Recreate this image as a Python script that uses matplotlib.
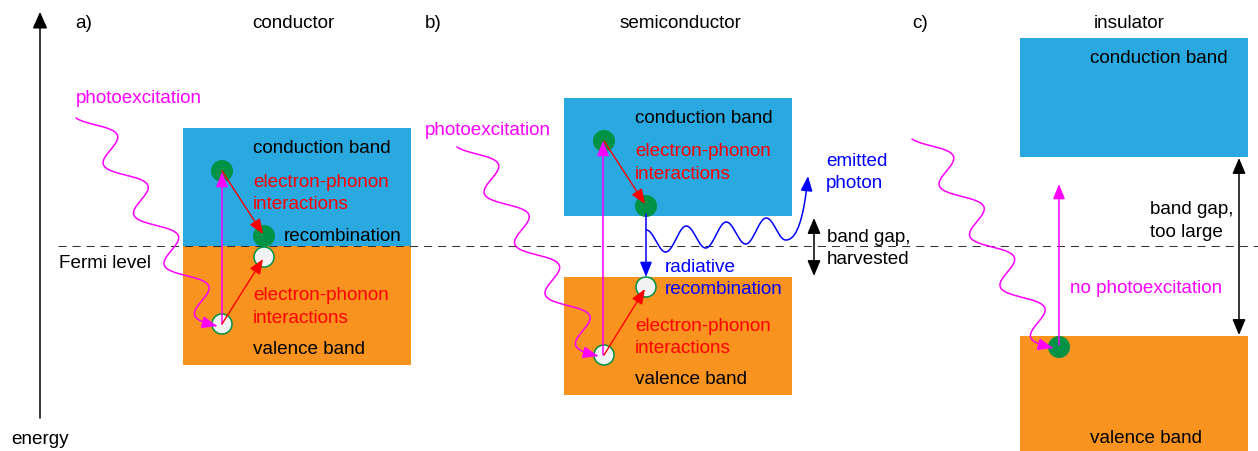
import numpy as np
import matplotlib.pyplot as plt
from matplotlib.patches import Rectangle, Circle, FancyArrowPatch
from matplotlib.path import Path

plt.rcParams['font.family'] = ['Liberation Sans', 'DejaVu Sans']

# canvas in pixels, y grows downwards like the original drawing
W, H = 1258, 451

CB_COLOR = '#29a9e0'
VB_COLOR = '#f7931e'
GREEN = '#009245'
MAGENTA = '#ff00ff'
RED = '#ff0000'
BLUE = '#0000ff'
FS = 13.6

# panels a) conductor, b) semiconductor, c) insulator
panel_labels = ['a)', 'b)', 'c)']
panel_titles = ['conductor', 'semiconductor', 'insulator']
label_x = [75, 425, 912]
title_x = [293, 680, 1129]

# band boxes
band_left = [183, 564, 1020]
band_right = [411, 792, 1248]
cb_top = [128, 98, 38]
cb_bottom = [246, 216, 157]
vb_top = [246, 277, 336]
vb_bottom = [365, 395, 451]
fermi_y = 246

# electrons (filled) and holes (open)
electrons = [(222, 171), (264, 236), (604, 141), (646, 206), (1059, 347)]
holes = [(264, 257), (222, 324), (646, 287), (604, 355)]

# incoming photons: start of squiggle, arrow tip
photon_start = [(76, 118), (457, 147), (912, 139)]
photon_end = [(217, 326), (598, 356), (1053, 348)]

# excitation arrows (magenta, vertical)
excite = [((222, 324), (222, 172)), ((603, 355), (603, 141)), ((1059, 345), (1059, 184))]
# relaxation arrows (red)
relax = [((222, 171), (263, 234)), ((222, 324), (263, 259)),
         ((604, 141), (645, 204)), ((604, 355), (645, 289))]

fig = plt.figure(figsize=(W / 100, H / 100), dpi=100)
ax = fig.add_axes([0, 0, 1, 1])
ax.set_xlim(0, W)
ax.set_ylim(H, 0)
ax.axis('off')


def arrow(p0, p1, color, lw=1.1, style='-|>', hl=0.9, hw=0.36, z=4):
    ax.add_patch(FancyArrowPatch(p0, p1, arrowstyle=f'{style},head_length={hl},head_width={hw}',
                                 mutation_scale=10, color=color, lw=lw,
                                 shrinkA=0, shrinkB=0, zorder=z))


def path_arrow(pts, color, lw=1.1, hl=0.9, hw=0.36):
    ax.add_patch(FancyArrowPatch(path=Path(pts), arrowstyle=f'-|>,head_length={hl},head_width={hw}',
                                 mutation_scale=10, color=color, lw=lw, zorder=4))


def squiggle(start, end, amp=14.5):
    # skewed sine: offsets are nearly horizontal, progress runs down the diagonal
    q = np.array([0.975, -0.22])
    th0, th1 = -np.pi / 2 + 0.35, 8 * np.pi
    b0 = np.array(start, float) - amp * np.sin(th0) * q
    b1 = np.array(end, float) - amp * np.sin(th1) * q
    t = np.linspace(0, 1, 500)[:, None]
    return b0 + t * (b1 - b0) + amp * np.sin(th0 + (th1 - th0) * t) * q


def txt(x, y, s, color='black', ha='left'):
    ax.text(x, y + 2.5, s, color=color, fontsize=FS, ha=ha, va='center', zorder=5)


# bands
for i in range(3):
    w = band_right[i] - band_left[i]
    ax.add_patch(Rectangle((band_left[i], cb_top[i]), w, cb_bottom[i] - cb_top[i],
                           fc=CB_COLOR, ec='none', zorder=1))
    ax.add_patch(Rectangle((band_left[i], vb_top[i]), w, vb_bottom[i] - vb_top[i],
                           fc=VB_COLOR, ec='none', zorder=1))
    txt(label_x[i], 21, panel_labels[i])
    txt(title_x[i], 21, panel_titles[i], ha='center')

# Fermi level
ax.plot([58, W], [fermi_y, fermi_y], color='#333333', lw=0.75, dashes=(7.7, 5.8), zorder=2)
txt(59, 261, 'Fermi level')

# energy axis
arrow((40, 418), (40, 12), 'black', lw=1.1, hl=1.0, hw=0.45)
txt(40, 437, 'energy', ha='center')

# carriers
for c in electrons:
    ax.add_patch(Circle(c, 11, fc=GREEN, ec='none', zorder=3))
for c in holes:
    ax.add_patch(Circle(c, 10, fc='#f2f2f2', ec=GREEN, lw=1.1, zorder=3))

# photons in
for s, e in zip(photon_start, photon_end):
    path_arrow(squiggle(s, e), MAGENTA)
for p0, p1 in excite:
    arrow(p0, p1, MAGENTA)
for p0, p1 in relax:
    arrow(p0, p1, RED, lw=1.0)

# semiconductor: radiative recombination and emitted photon
arrow((646, 214), (646, 277), BLUE)
xw = np.linspace(646, 786, 300)
yc = 242 - (xw - 646) * 14 / 140
yw = yc + 12 * np.cos(2 * np.pi * (xw - 666) / 40)
t = np.linspace(0, 1, 60)
p0, c0, p2 = np.array([786, yw[-1]]), np.array([802, yw[-1]]), np.array([808, 176])
bez = ((1 - t) ** 2)[:, None] * p0 + (2 * t * (1 - t))[:, None] * c0 + (t ** 2)[:, None] * p2
path_arrow(np.vstack([np.column_stack([xw, yw]), bez[1:]]), BLUE)

# band gap arrows
arrow((814, 276), (814, 218), 'black', lw=1.1, style='<|-|>', hl=0.95, hw=0.4)
arrow((1239, 158), (1239, 335), 'black', lw=1.1, style='<|-|>', hl=0.95, hw=0.4)

# labels panel a
txt(76, 96, 'photoexcitation', MAGENTA)
txt(253, 146, 'conduction band')
txt(253, 180, 'electron-phonon', RED)
txt(253, 202, 'interactions', RED)
txt(284, 234, 'recombination')
txt(253, 293, 'electron-phonon', RED)
txt(253, 316, 'interactions', RED)
txt(253, 347, 'valence band')

# labels panel b
txt(425, 128, 'photoexcitation', MAGENTA)
txt(635, 116, 'conduction band')
txt(635, 149, 'electron-phonon', RED)
txt(635, 172, 'interactions', RED)
txt(665, 265, 'radiative', BLUE)
txt(665, 287, 'recombination', BLUE)
txt(635, 324, 'electron-phonon', RED)
txt(635, 346, 'interactions', RED)
txt(635, 377, 'valence band')
txt(826, 159, 'emitted', BLUE)
txt(826, 181, 'photon', BLUE)
txt(827, 235, 'band gap,')
txt(827, 257, 'harvested')

# labels panel c
txt(1090, 56, 'conduction band')
txt(1150, 207, 'band gap,')
txt(1150, 230, 'too large')
txt(1070, 286, 'no photoexcitation', MAGENTA)
txt(1090, 436, 'valence band')

fig.savefig('out.png', dpi=100)
